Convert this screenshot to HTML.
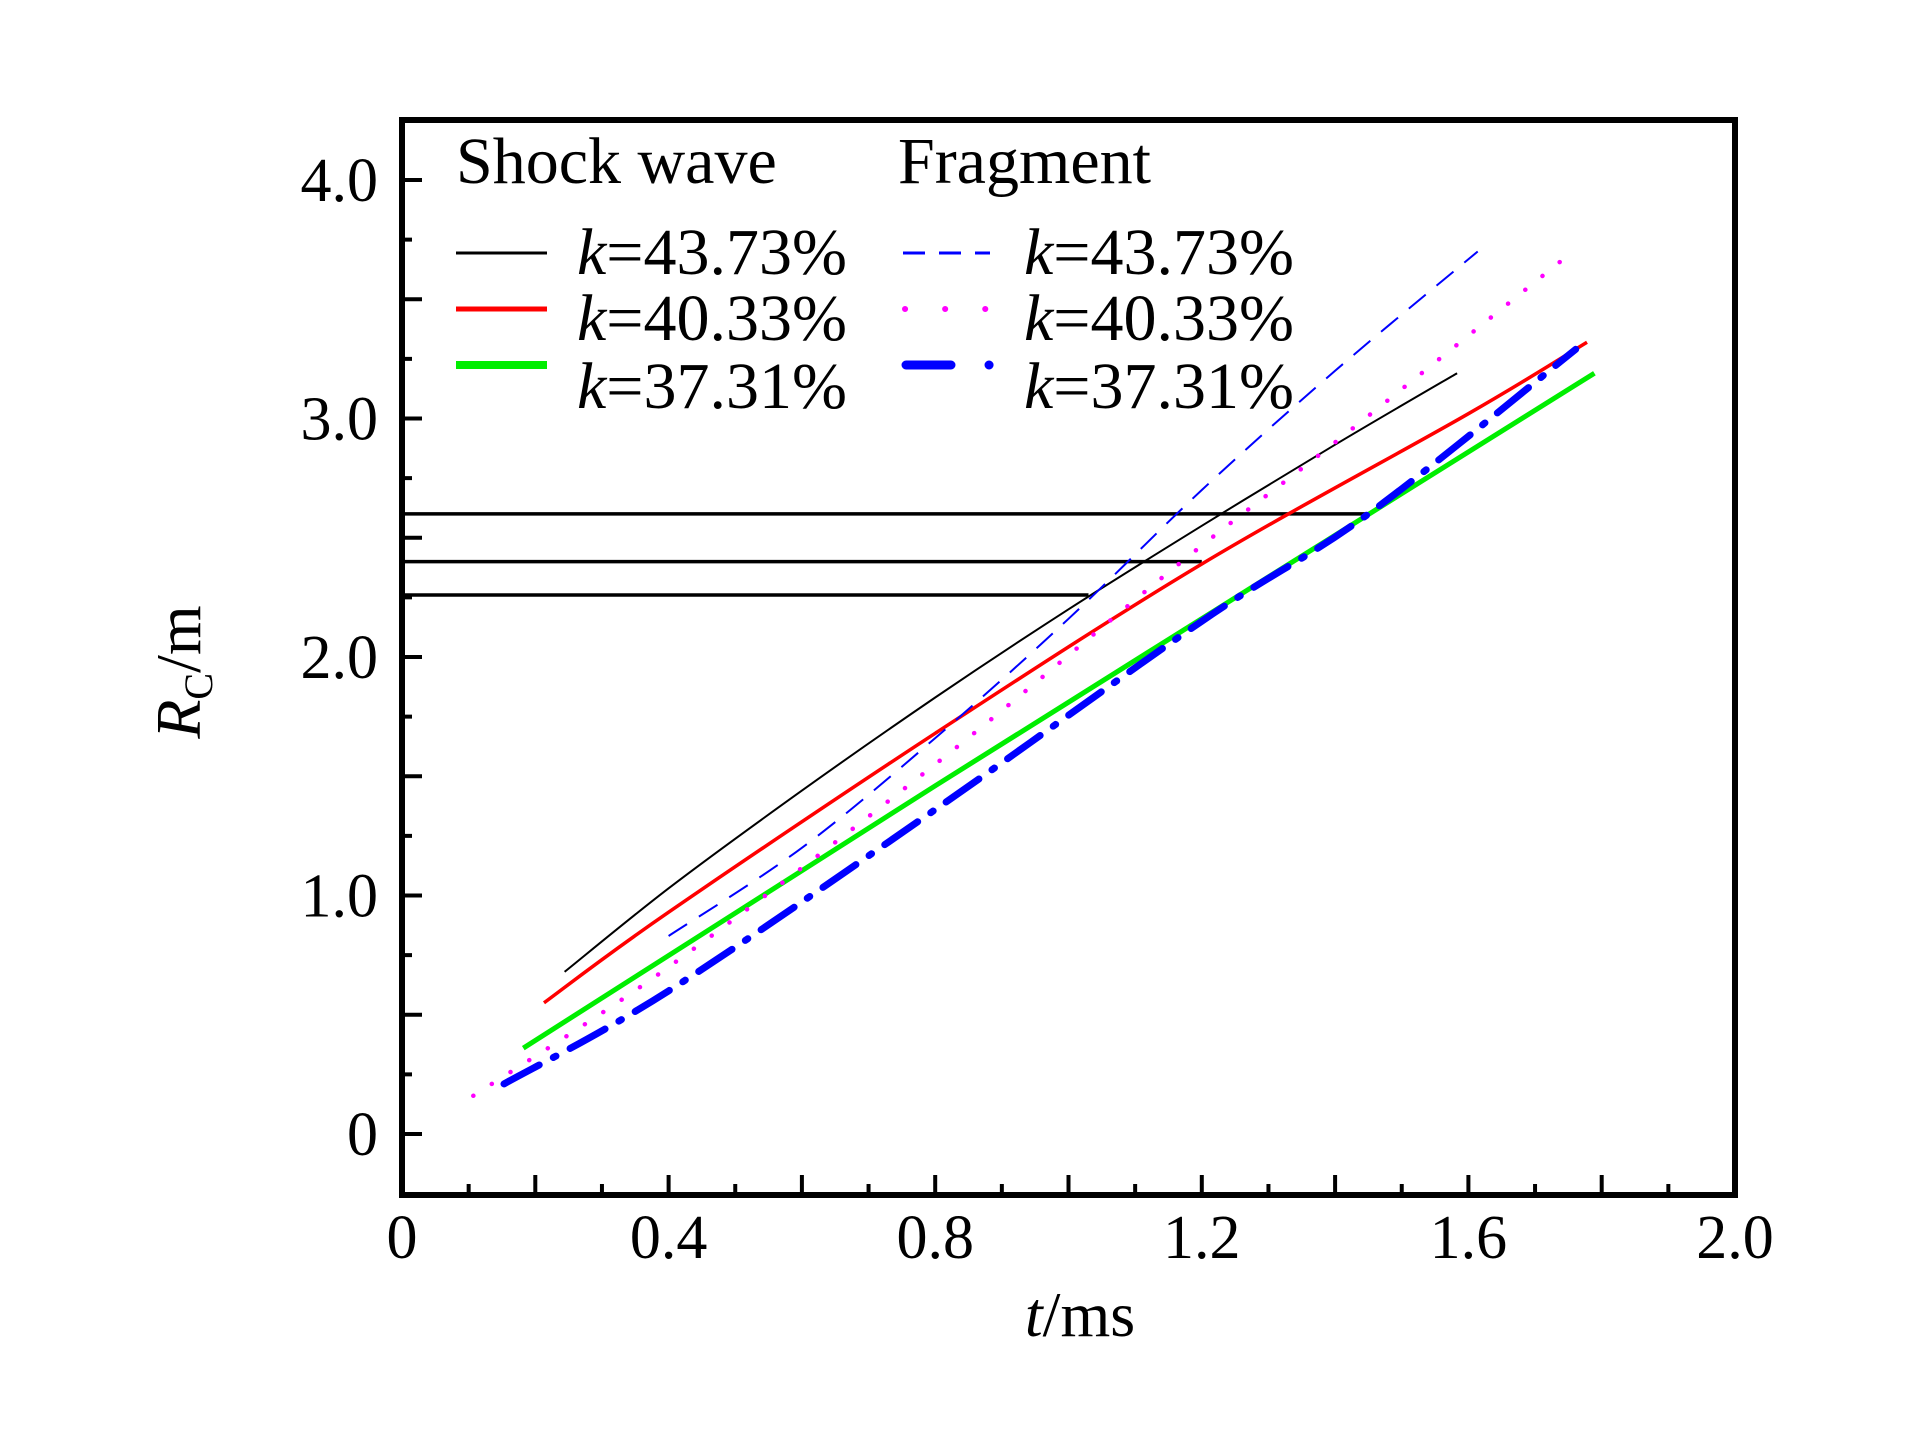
<!DOCTYPE html>
<html><head><meta charset="utf-8"><style>
html,body{margin:0;padding:0;background:#fff;}
svg{display:block;font-family:"Liberation Serif",serif;}
</style></head><body>
<svg id="chart" width="1923" height="1429" viewBox="0 0 1923 1429" xmlns="http://www.w3.org/2000/svg">
<g id="plot"></g>
</svg>
<script>
const xTicksMajor = [0, 0.4, 0.8, 1.2, 1.6, 2.0];
const xTickLabels = ["0", "0.4", "0.8", "1.2", "1.6", "2.0"];
const yTicksMajor = [0, 1.0, 2.0, 3.0, 4.0];
const yTickLabels = ["0", "1.0", "2.0", "3.0", "4.0"];
const refLevels = [2.6, 2.4, 2.26];
const refEnds = [1.45, 1.2, 1.03];
const swT43 = [0.244, 0.4, 0.6, 0.8, 1.0, 1.2, 1.4, 1.583];
const swR43 = [0.68, 1.03, 1.44, 1.83, 2.2, 2.55, 2.89, 3.19];
const swT40 = [0.213, 0.4, 0.8, 1.2, 1.6, 1.778];
const swR40 = [0.55, 0.93, 1.68, 2.39, 3.02, 3.32];
const swT37 = [0.182, 0.8, 1.789];
const swR37 = [0.36, 1.46, 3.19];
const frT43 = [0.4, 0.6, 0.8, 1.0, 1.2, 1.4, 1.614];
const frR43 = [0.83, 1.2, 1.66, 2.16, 2.7, 3.2, 3.70];
const frT40 = [0.107, 0.4, 0.8, 1.17, 1.4, 1.761];
const frR40 = [0.16, 0.7, 1.55, 2.4, 2.9, 3.71];
const frT37 = [0.153, 0.4, 0.8, 1.2, 1.45, 1.761];
const frR37 = [0.21, 0.6, 1.36, 2.15, 2.6, 3.29];

const NS = "http://www.w3.org/2000/svg";
const X0 = 402, X1 = 1735, YT = 120, YB = 1195;
const sx = t => X0 + t / 2.0 * (X1 - X0);
const sy = r => 1134 - r * 238.5;
const g = document.getElementById('plot');
function mk(tag, attrs) { const e = document.createElementNS(NS, tag); for (const k in attrs) e.setAttribute(k, attrs[k]); g.appendChild(e); return e; }

refLevels.forEach((lv, i) => {
  const l = mk('line', {x1: sx(0), x2: sx(refEnds[i]), y1: sy(lv), y2: sy(lv), stroke: '#000', 'stroke-width': 3.5});
  
  
});

function smoothPath(ts, rs) {
  const P = ts.map((t, i) => [sx(t), sy(rs[i])]);
  let d = 'M' + P[0][0].toFixed(1) + ',' + P[0][1].toFixed(1);
  for (let i = 0; i < P.length - 1; i++) {
    const p0 = P[Math.max(i - 1, 0)], p1 = P[i], p2 = P[i + 1], p3 = P[Math.min(i + 2, P.length - 1)];
    const c1 = [p1[0] + (p2[0] - p0[0]) / 6, p1[1] + (p2[1] - p0[1]) / 6];
    const c2 = [p2[0] - (p3[0] - p1[0]) / 6, p2[1] - (p3[1] - p1[1]) / 6];
    d += ' C' + c1[0].toFixed(1) + ',' + c1[1].toFixed(1) + ' ' + c2[0].toFixed(1) + ',' + c2[1].toFixed(1) + ' ' + p2[0].toFixed(1) + ',' + p2[1].toFixed(1);
  }
  return d;
}
function series(ts, rs, color, w, dash, name, cap) {
  const p = mk('path', {d: smoothPath(ts, rs), fill: 'none', stroke: color, 'stroke-width': w, 'stroke-linecap': cap || 'butt', 'stroke-linejoin': 'round'});
  if (dash) p.setAttribute('stroke-dasharray', dash);
  
  
}
series(swT43, swR43, '#000', 2, null, 'shock-wave-k43');
series(swT40, swR40, '#ff0000', 3.5, null, 'shock-wave-k40');
series(swT37, swR37, '#00ee00', 5, null, 'shock-wave-k37');
series(frT43, frR43, '#0000ff', 2, '22 14', 'fragment-k43');
series(frT40, frR40, '#ff00ff', 4.5, '0.1 22', 'fragment-k40', 'round');
series(frT37, frR37, '#0000ff', 7, '40 16 3 16', 'fragment-k37', 'round');

const fr = mk('rect', {x: X0, y: YT, width: X1 - X0, height: YB - YT, fill: 'none', stroke: '#000', 'stroke-width': 6});



for (let i = 1; i < 20; i++) {
  const t = i * 0.1; const major = i % 2 === 0;
  const tk = mk('line', {x1: sx(t), x2: sx(t), y1: YB, y2: YB - (major ? 20 : 11), stroke: '#000', 'stroke-width': 4});
  
  
}
xTicksMajor.forEach((t, i) => {
  const tx = mk('text', {x: sx(t), y: 1258, 'font-size': 62, 'text-anchor': 'middle'});
  tx.textContent = xTickLabels[i];
  
  
});
for (let i = 0; i <= 16; i++) {
  const r = i * 0.25; const major = i % 2 === 0;
  const tk = mk('line', {x1: X0, x2: X0 + (major ? 20 : 10), y1: sy(r), y2: sy(r), stroke: '#000', 'stroke-width': 4});
  
  
}
yTicksMajor.forEach((r, i) => {
  const tx = mk('text', {x: 378, y: sy(r) + 21, 'font-size': 62, 'text-anchor': 'end'});
  tx.textContent = yTickLabels[i];
  
  
});
</script>
<svg style="position:absolute;left:0;top:0" width="1923" height="1429" xmlns="http://www.w3.org/2000/svg" font-family="Liberation Serif, serif">
  <text x="1080" y="1336" font-size="64" text-anchor="middle"><tspan font-style="italic">t</tspan>/ms</text>
  <text transform="translate(200,672) rotate(-90)" font-size="64" text-anchor="middle"><tspan font-style="italic">R</tspan><tspan font-size="40" dy="12">C</tspan><tspan dy="-12">/m</tspan></text>
  <g font-size="66">
    <text x="456" y="183">Shock wave</text>
    <text x="898" y="183">Fragment</text>
    <line x1="456" x2="547" y1="253" y2="253" stroke="#000" stroke-width="3"/>
    <line x1="456" x2="547" y1="309" y2="309" stroke="#ff0000" stroke-width="5"/>
    <line x1="456" x2="547" y1="365" y2="365" stroke="#00ee00" stroke-width="8"/>
    <text x="577" y="274"><tspan font-style="italic">k</tspan>=43.73%</text>
    <text x="577" y="340"><tspan font-style="italic">k</tspan>=40.33%</text>
    <text x="577" y="408"><tspan font-style="italic">k</tspan>=37.31%</text>
    <line x1="903" x2="990" y1="253" y2="253" stroke="#0000ff" stroke-width="3" stroke-dasharray="22 14"/>
    <line x1="905" x2="990" y1="309" y2="309" stroke="#ff00ff" stroke-width="6" stroke-dasharray="0.1 40" stroke-linecap="round"/>
    <line x1="906" x2="990" y1="365" y2="365" stroke="#0000ff" stroke-width="9" stroke-dasharray="45 38 0.1 20" stroke-linecap="round"/>
    <text x="1024" y="274"><tspan font-style="italic">k</tspan>=43.73%</text>
    <text x="1024" y="340"><tspan font-style="italic">k</tspan>=40.33%</text>
    <text x="1024" y="408"><tspan font-style="italic">k</tspan>=37.31%</text>
  </g>
</svg>
</body></html>
